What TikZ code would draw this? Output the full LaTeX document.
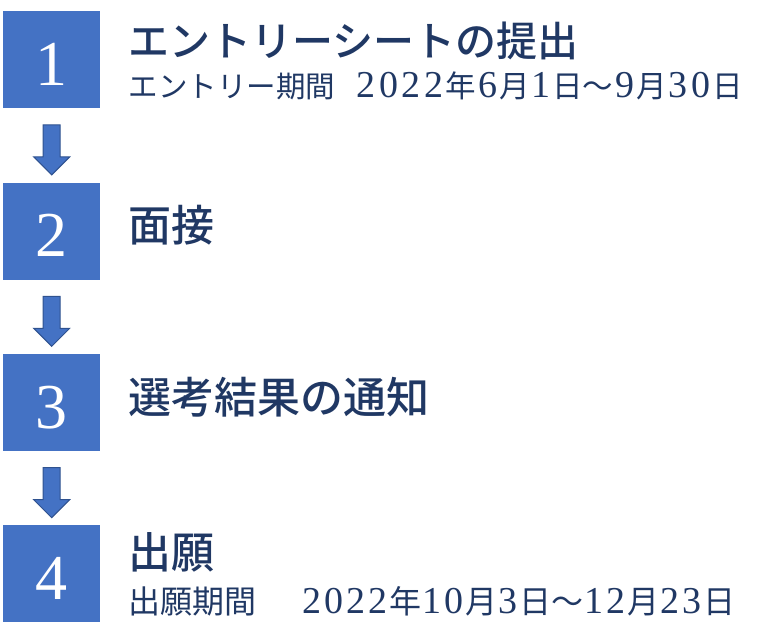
\documentclass[tikz,border=0pt]{standalone}
\usepackage{fontspec}
\usepackage{xcolor}
\usepackage{tikz}
\usetikzlibrary{calc}
\usetikzlibrary{positioning}
\usetikzlibrary{shapes.arrows}
\newfontfamily\jpfont{Noto Sans CJK JP}
\newfontfamily\jptitlefont{Noto Sans CJK JP}[UprightFont=* Medium]
\newfontfamily\numfont{Liberation Serif}
\makeatletter
\newcommand{\digits}[2][22pt]{\def\dg@w{#1}\dg@loop#2\relax}
\def\dg@loop#1{\ifx#1\relax\else\makebox[\dg@w]{\numfont\fontsize{38}{38}\selectfont#1}\expandafter\dg@loop\fi}
\makeatother
\definecolor{stepblue}{HTML}{4472C4}
\definecolor{arrowedge}{HTML}{2F528F}
\definecolor{textnavy}{HTML}{203864}

\begin{document}
\begin{tikzpicture}[x=1pt, y=-1pt,
	stepbox/.style={rectangle, fill=stepblue, minimum size=97pt, inner sep=0pt, text=white, text height=51pt, text depth=0pt, font=\numfont\fontsize{64}{64}\selectfont},
	downarrow/.style={single arrow, shape border rotate=270, fill=stepblue, draw=arrowedge, line width=1pt, minimum height=50pt, minimum width=36pt, single arrow head extend=9.5pt, inner sep=8pt},
	title/.style={inner sep=0pt, anchor=west, yshift=-7pt, text=textnavy, text height=0.88em, text depth=0.12em, font=\jptitlefont\fontsize{43}{43}\selectfont},
	subtitle/.style={title, font=\jpfont\fontsize{32}{32}\selectfont},
	datetext/.style={inner sep=0pt, anchor=base west, text=textnavy, font=\jpfont\fontsize{31}{31}\selectfont}]

\useasboundingbox (0,0) rectangle (768,639);

\node at (3,11)[stepbox, anchor=north west] (step1) {1};
\node[stepbox, below=74pt of step1] (step2) {2};
\node[stepbox, below=74pt of step2] (step3) {3};
\node[stepbox, below=74pt of step3] (step4) {4};

\node[downarrow, below=16pt of step1] (arrow1) {};
\node[downarrow, below=16pt of step2] (arrow2) {};
\node[downarrow, below=16pt of step3] (arrow3) {};

\node[title, right=28pt of step1, yshift=13.5pt, font=\jptitlefont\fontsize{41}{41}\selectfont] (title1) {エントリーシートの提出};
\node[subtitle, right=28pt of step1, yshift=-27.5pt, font=\jpfont\fontsize{29.5}{29.5}\selectfont] (period1) {エントリー期間};
\node[datetext, font=\jpfont\fontsize{30.5}{30.5}\selectfont] (date1) at ($(period1.base east)+(19,0)$)
	{\digits[22.8pt]{2022}年\digits[22.8pt]{6}月\digits[22.8pt]{1}日～\digits[22.8pt]{9}月\digits[22.8pt]{30}日};

\node[title, right=28pt of step2] (title2) {面接};

\node[title, right=28pt of step3] (title3) {選考結果の通知};

\node[title, right=28pt of step4, yshift=16.5pt] (title4) {出願};
\node[subtitle, right=28pt of step4, yshift=-29pt] (period4) {出願期間};
\node[datetext, font=\jpfont\fontsize{32}{32}\selectfont] (date4) at ($(period4.base east)+(44,0)$)
	{\digits[22pt]{2022}年\digits[22pt]{10}月\digits[22pt]{3}日～\digits[22pt]{12}月\digits[22pt]{23}日};

\end{tikzpicture}
\end{document}
